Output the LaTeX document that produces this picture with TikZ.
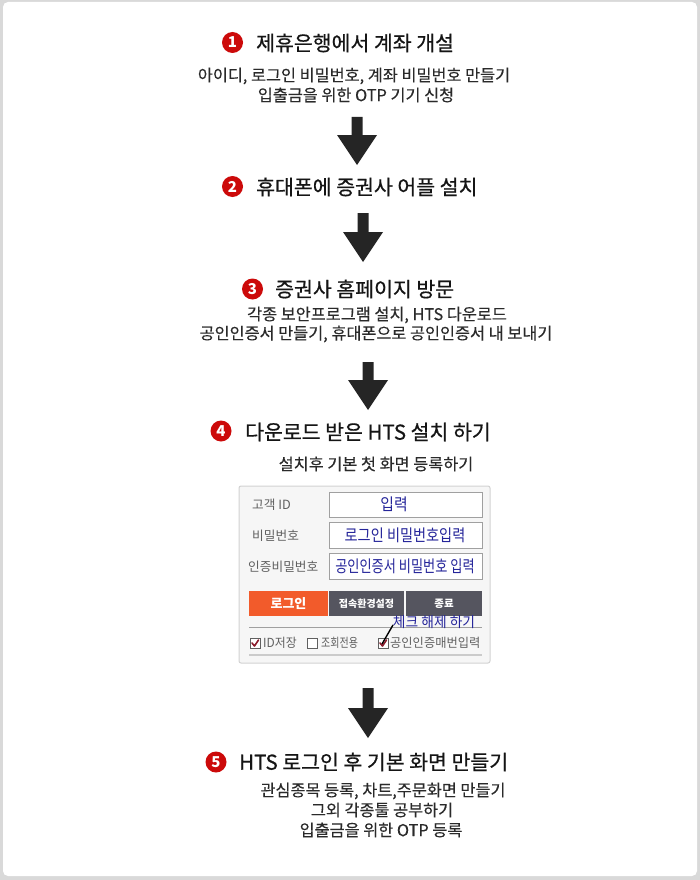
\documentclass[tikz,border=0pt]{standalone}
\usepackage{fontspec}
\setmainfont{Noto Sans CJK KR}
\newfontfamily\titlefont{Noto Sans CJK KR}[FakeBold=0.6]
\newfontfamily\subfont{Noto Sans CJK KR}[FakeBold=0.2]
\definecolor{frameg}{HTML}{D9D9D9}
\definecolor{numred}{HTML}{CC0A0A}
\definecolor{titlec}{HTML}{151515}
\definecolor{subc}{HTML}{2A2A2A}
\definecolor{arrowc}{HTML}{252525}
\definecolor{panelbg}{HTML}{F6F6F6}
\definecolor{panelln}{HTML}{D2D2D2}
\definecolor{fieldln}{HTML}{A0A0A0}
\definecolor{lblc}{HTML}{606060}
\definecolor{inblue}{HTML}{25259A}
\definecolor{btnorange}{HTML}{F25B2B}
\definecolor{btngrey}{HTML}{55555F}
\definecolor{checkc}{HTML}{8B1A2A}
\begin{document}
\begin{tikzpicture}[x=1pt,y=-1pt,
  numdot/.style={circle,fill=numred,text=white,inner sep=0pt,minimum size=21pt,font=\fontsize{15}{15}\selectfont\bfseries},
  titletxt/.style={anchor=west,inner sep=0pt,text=titlec,font=\titlefont\fontsize{20.5}{24}\selectfont},
  subtxt/.style={inner sep=0pt,text=subc,font=\subfont\fontsize{16.3}{19}\selectfont},
  bigarrow/.style={fill=arrowc},
  lbl/.style={anchor=west,inner sep=0pt,text=lblc,font=\fontsize{12.7}{15}\selectfont},
  field/.style={fill=white,draw=fieldln,line width=0.8pt},
  intxt/.style={inner sep=0pt,text=inblue,font=\fontsize{16.5}{19}\selectfont},
  btntxt/.style={inner sep=0pt,text=white,font=\fontsize{10}{12}\selectfont\bfseries},
  chkbox/.style={fill=white,draw=lblc,line width=0.8pt},
  chkmark/.style={draw=checkc,line width=1.6pt,line cap=round,line join=round},
  chklbl/.style={anchor=west,inner sep=0pt,text=lblc,font=\fontsize{12.5}{14}\selectfont}
]
\useasboundingbox (0,0) rectangle (700,880);
% frame
\fill[frameg] (0,0) rectangle (700,880);
\fill[white,rounded corners=5pt] (3,2) rectangle (697,876);

% arrows (as shapes)
\newcommand{\bigdown}[3]{% x, top, tip
  \fill[bigarrow] (#1-5.5,#2) -- (#1+5.5,#2) -- (#1+5.5,#3-30) -- (#1+20,#3-30) -- (#1,#3) -- (#1-20,#3-30) -- (#1-5.5,#3-30) -- cycle;}

% Step 1
\node[numdot] (n1) at (232.5,42.5) {1};
\node[titletxt] (t1) at (256,43) {제휴은행에서 계좌 개설};
\node[subtxt] (s1a) at (354,76) {아이디, 로그인 비밀번호, 계좌 비밀번호 만들기};
\node[subtxt] (s1b) at (356,95) {입출금을 위한 OTP 기기 신청};
\bigdown{357}{117}{165}

% Step 2
\node[numdot] (n2) at (232.5,186.5) {2};
\node[titletxt] (t2) at (256,187) {휴대폰에 증권사 어플 설치};
\bigdown{363}{213}{262}

% Step 3
\node[numdot] (n3) at (252.5,289) {3};
\node[titletxt] (t3) at (275,289) {증권사 홈페이지 방문};
\node[subtxt] (s3a) at (377,315) {각종 보안프로그램 설치, HTS 다운로드};
\node[subtxt] (s3b) at (376,334) {공인인증서 만들기, 휴대폰으로 공인인증서 내 보내기};
\bigdown{368}{362}{410}

% Step 4
\node[numdot] (n4) at (221,431) {4};
\node[titletxt] (t4) at (245,432) {다운로드 받은 HTS 설치 하기};
\node[subtxt] (s4a) at (376,464) {설치후 기본 첫 화면 등록하기};

% Login panel
\draw[fill=panelbg,draw=panelln,line width=1pt,rounded corners=2pt] (239,486) rectangle (490,663);
\node[lbl] (l1) at (252,505) {고객 ID};
\node[lbl] (l2) at (252,536) {비밀번호};
\node[lbl] (l3) at (248,567) {인증비밀번호};
\draw[field] (329,492) rectangle (482,517);
\draw[field] (329,522) rectangle (482,548);
\draw[field] (329,553) rectangle (482,579);
\node[intxt] (f1) at (394,504) {\scalebox{0.9}[1]{입력}};
\node[intxt] (f2) at (405,535) {\scalebox{0.86}[1]{로그인 비밀번호입력}};
\node[intxt] (f3) at (405,566) {\scalebox{0.8}[1]{공인인증서 비밀번호 입력}};
\fill[btnorange] (249,591) rectangle (328,616);
\fill[btngrey] (329,591) rectangle (404,616);
\fill[btngrey] (406,591) rectangle (482,616);
\node[btntxt,font=\fontsize{13}{15}\selectfont\bfseries] (b1) at (288.5,603.5) {로그인};
\node[btntxt] (b2) at (366.5,603.5) {접속환경설정};
\node[btntxt,font=\fontsize{10.5}{12}\selectfont\bfseries] (b3) at (444,603.5) {종료};
\draw[fieldln,line width=0.8pt] (249,627) -- (482,627);
\node[intxt,font=\fontsize{14.5}{16}\selectfont] (hint) at (434,622) {\scalebox{0.95}[1]{체크 해제 하기}};
% checkboxes
\draw[chkbox] (250,638) rectangle (260,648);
\draw[chkmark] (252,643) -- (254.5,646) -- (258.5,640);
\node[chklbl] (c1) at (263,643) {\scalebox{0.95}[1]{ID저장}};
\draw[chkbox] (307,638) rectangle (317,648);
\node[chklbl] (c2) at (321,643) {\scalebox{0.8}[1]{조회전용}};
\draw[chkbox] (378,638) rectangle (388,648);
\draw[chkmark] (380,643) -- (382.5,646) -- (386.5,640);
\node[chklbl] (c3) at (390,643) {\scalebox{0.98}[1]{공인인증매번입력}};
\coordinate (slA) at (382,644);
\coordinate (slB) at (393,625);
\draw[black,line width=1.4pt] (slA) -- (slB);
\draw[panelln!80!black!60,line width=2pt] (249,655) -- (482,655);

\bigdown{368}{688}{738}

% Step 5
\node[numdot] (n5) at (216,762) {5};
\node[titletxt] (t5) at (239,762) {HTS 로그인 후 기본 화면 만들기};
\node[subtxt] (s5a) at (383,791) {관심종목 등록, 차트,주문화면 만들기};
\node[subtxt] (s5b) at (382,810) {그외 각종툴 공부하기};
\node[subtxt] (s5c) at (381,830) {입출금을 위한 OTP 등록};
\end{tikzpicture}
\end{document}
